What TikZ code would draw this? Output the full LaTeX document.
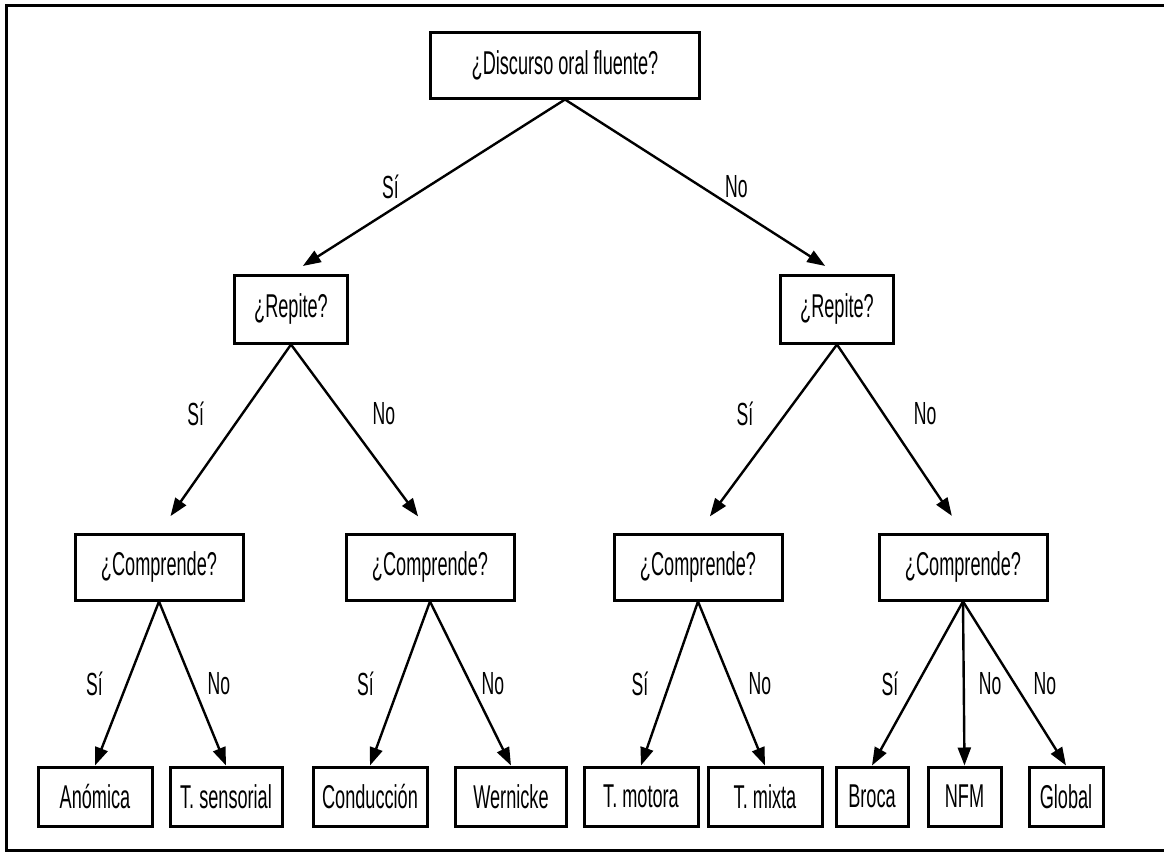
\documentclass[tikz,border=0pt]{standalone}
\usepackage{fontspec}
\setmainfont{Liberation Sans}[FakeStretch=0.55]
\usetikzlibrary{arrows.meta}
\tikzset{
 qbox/.style={draw,line width=1.5pt,minimum height=33pt,inner sep=2pt,
              font=\fontsize{16.5}{19}\selectfont},
 leaf/.style={draw,line width=1.5pt,minimum height=29.5pt,minimum width=57pt,
              inner sep=2pt,font=\fontsize{16.5}{19}\selectfont},
 arrow/.style={-{Triangle[length=9pt,width=6.5pt]},line width=1.2pt},
 lbl/.style={inner sep=0pt,font=\fontsize{16}{19}\selectfont},
}

\begin{document}
\begin{tikzpicture}[x=0.5pt,y=-0.5pt]
\useasboundingbox (0,0) rectangle (1164,852);
\draw[line width=1.5pt] (1164,5.5) -- (6.5,5.5) -- (6.5,850) -- (1164,850);

% questions
\node[qbox,minimum width=134.5pt] (disc) at (565,65) {¿Discurso oral fluente?};
\node[qbox,minimum width=56.5pt,minimum height=34pt] (repS) at (291,309) {¿Repite?};
\node[qbox,minimum width=56.5pt,minimum height=34pt] (repN) at (837,309) {¿Repite?};
\node[qbox,minimum width=84pt] (compSS) at (159,567) {¿Comprende?};
\node[qbox,minimum width=84pt] (compSN) at (430,567) {¿Comprende?};
\node[qbox,minimum width=84pt] (compNS) at (698,567) {¿Comprende?};
\node[qbox,minimum width=84pt] (compNN) at (963,567) {¿Comprende?};

% diagnoses
\node[leaf] (anom) at (95,796.5) {Anómica};
\node[leaf,minimum width=56pt] (tsens) at (226,796.5) {T. sensorial};
\node[leaf] (cond) at (370,796.5) {Conducción};
\node[leaf,minimum width=55.5pt] (wern) at (511,796.5) {Wernicke};
\node[leaf] (tmot) at (641,796.5) {T. motora};
\node[leaf] (tmix) at (765,796.5) {T. mixta};
\node[leaf,minimum width=36pt] (broca) at (872,796.5) {Broca};
\node[leaf,minimum width=36.5pt] (nfm) at (964.5,796.5) {NFM};
\node[leaf,minimum width=37pt] (global) at (1066,796.5) {Global};

\draw[arrow,shorten >=7pt] (disc.south) -- node[lbl,left=14pt] {Sí} (repS.north);
\draw[arrow,shorten >=7pt] (disc.south) -- node[lbl,right=11.5pt] {No} (repN.north);

\draw[arrow,shorten >=10pt] (repS.south) -- node[lbl,pos=0.37,left=18.5pt] {Sí} (compSS.north);
\draw[arrow,shorten >=10pt] (repS.south) -- node[lbl,pos=0.37,right=14.5pt] {No} (compSN.north);
\draw[arrow,shorten >=10pt] (repN.south) -- node[lbl,pos=0.37,left=15.5pt] {Sí} (compNS.north);
\draw[arrow,shorten >=10pt] (repN.south) -- node[lbl,pos=0.37,right=14.5pt] {No} (compNN.north);

\draw[arrow] (compSS.south) -- node[lbl,left=11.5pt] {Sí} (anom.north);
\draw[arrow] (compSS.south) -- node[lbl,right=7pt] {No} (tsens.north);
\draw[arrow] (compSN.south) -- node[lbl,left=12.5pt] {Sí} (cond.north);
\draw[arrow] (compSN.south) -- node[lbl,right=5pt] {No} (wern.north);
\draw[arrow] (compNS.south) -- node[lbl,left=10pt] {Sí} (tmot.north);
\draw[arrow] (compNS.south) -- node[lbl,right=8pt] {No} (tmix.north);
\draw[arrow] (compNN.south) -- node[lbl,left=9pt] {Sí} (broca.north);
\draw[arrow] (compNN.south) -- node[lbl,right=7pt] {No} (nfm.north);
\draw[arrow] (compNN.south) -- node[lbl,right=9pt] {No} (global.north);
\end{tikzpicture}
\end{document}
